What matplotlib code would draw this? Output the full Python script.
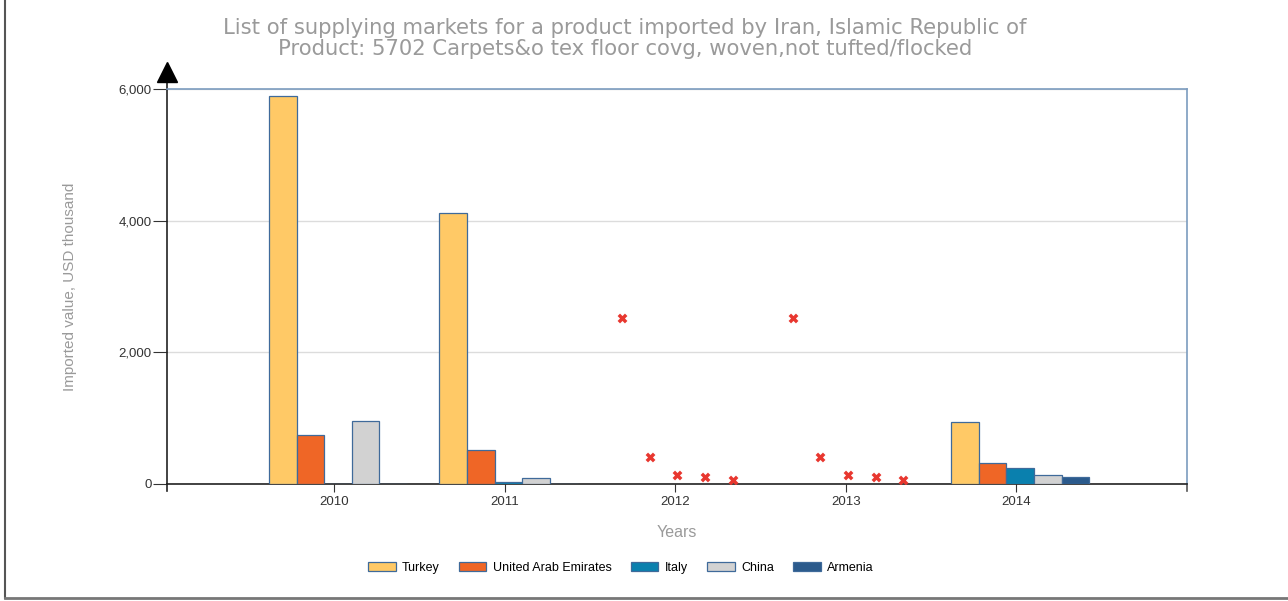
import numpy as np
import matplotlib
matplotlib.use("Agg")
import matplotlib.pyplot as plt
from matplotlib.lines import Line2D

plt.rcParams["font.family"] = ["Liberation Sans", "DejaVu Sans"]

# --- data (USD thousand) ---
years = ["2010", "2011", "2012", "2013", "2014"]
countries = ["Turkey", "United Arab Emirates", "Italy", "China", "Armenia"]
turkey = [5890, 4110, np.nan, np.nan, 940]
uae = [745, 515, np.nan, np.nan, 320]
italy = [0, 30, np.nan, np.nan, 245]
china = [955, 90, np.nan, np.nan, 135]
armenia = [0, 0, np.nan, np.nan, 105]
# mirror estimates shown as red crosses for years without reported data
mirror_years = ["2012", "2013"]
mirror_vals = [2520, 410, 130, 110, 55]

colors = ["#FFC966", "#EF6626", "#0A80AE", "#D2D2D2", "#2B5A8C"]
series = [turkey, uae, italy, china, armenia]

fig = plt.figure(figsize=(12.88, 6.01), dpi=100)
ax = fig.add_axes([0.1297, 0.1947, 0.7919, 0.6572])

x = np.arange(len(years))
w = 0.162
shift = 0.022
for i, (vals, c) in enumerate(zip(series, colors)):
    ax.bar(x + shift + (i - 2) * w, vals, width=w, color=c, edgecolor="#3F6A9A",
           linewidth=0.9, zorder=3, label=countries[i])

for yr in mirror_years:
    xi = years.index(yr)
    ax.scatter(xi + 0.012 + (np.arange(5) - 2) * w, mirror_vals, marker="X", s=50,
               color="#E8372F", linewidths=0, zorder=4)

ax.set_xlim(-0.98, 5.0)
ax.set_ylim(0, 6000)
ax.set_xticks(x)
ax.set_xticklabels(years)
ax.set_yticks([0, 2000, 4000, 6000])
ax.set_yticklabels(["0", "2,000", "4,000", "6,000"])
ax.tick_params(axis="both", labelsize=9.5, color="#333333", labelcolor="#333333")
ax.tick_params(axis="y", length=10, pad=1)
ax.tick_params(axis="x", length=6, pad=3)
ax.yaxis.grid(True, color="#DCDCDC", linewidth=1, zorder=0)

for s in ["top", "right"]:
    ax.spines[s].set_color("#7C9CBF")
    ax.spines[s].set_linewidth(1.2)
for s in ["left", "bottom"]:
    ax.spines[s].set_color("#222222")
    ax.spines[s].set_linewidth(1.2)

# arrow on top of y axis, and small extensions below the x axis
ax.plot([0, 0], [1.0, 1.03], transform=ax.transAxes, color="#222222",
        linewidth=1.2, clip_on=False)
ax.plot([0], [1.043], transform=ax.transAxes, marker="^", markersize=15,
        color="black", clip_on=False)
ax.plot([0, 0], [0, -0.018], transform=ax.transAxes, color="#222222",
        linewidth=1.2, clip_on=False)
ax.plot([1, 1], [0, -0.018], transform=ax.transAxes, color="#555555",
        linewidth=1.2, clip_on=False)

ax.set_xlabel("Years", color="#9A9A9A", fontsize=11.5, labelpad=12)
ax.set_ylabel("Imported value, USD thousand", color="#9A9A9A", fontsize=11,
              labelpad=30)

title_kw = dict(ha="center", va="center", fontsize=15.2, color="#9A9A9A",
                family="DejaVu Sans")
fig.text(0.485, 0.953,
         "List of supplying markets for a product imported by Iran, Islamic Republic of",
         **title_kw)
fig.text(0.485, 0.918,
         "Product: 5702 Carpets&o tex floor covg, woven,not tufted/flocked",
         **title_kw)

handles = [plt.Rectangle((0, 0), 1, 1, facecolor=c, edgecolor="#3F6A9A",
                         linewidth=0.9) for c in colors]
fig.legend(handles, countries, loc="center", bbox_to_anchor=(0.482, 0.055),
           ncol=5, frameon=False, fontsize=9, handlelength=2.2,
           handleheight=0.8, columnspacing=1.55, handletextpad=0.5)

# outer frame lines (left and bottom)
fig.add_artist(Line2D([0.004, 0.004], [0.005, 1.0], transform=fig.transFigure,
                      color="#555555", linewidth=1.5))
fig.add_artist(Line2D([0.004, 1.0], [0.005, 0.005], transform=fig.transFigure,
                      color="#777777", linewidth=2))

fig.savefig("out.png", dpi=100)
